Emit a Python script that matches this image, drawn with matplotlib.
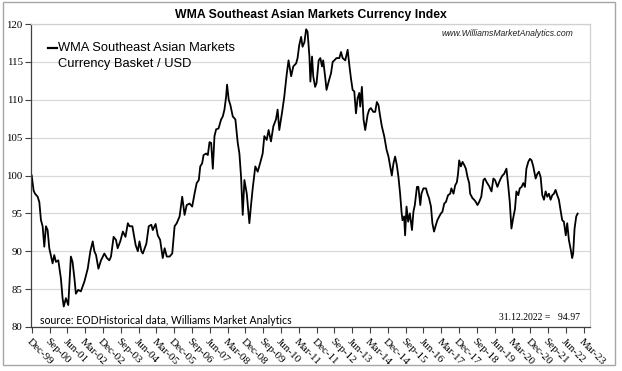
import matplotlib
matplotlib.use("Agg")
import matplotlib.pyplot as plt
from matplotlib.lines import Line2D
from matplotlib.patches import Rectangle

# ---- data (decimal year, index value) ----
years = [
    2000.00, 2000.08, 2000.14, 2000.25, 2000.32, 2000.39, 2000.46, 2000.53, 2000.60, 2000.67,
    2000.74, 2000.88, 2000.95, 2001.02, 2001.12, 2001.23, 2001.30, 2001.35, 2001.44, 2001.54,
    2001.65, 2001.72, 2001.80, 2001.86, 2001.96, 2002.07, 2002.22, 2002.36, 2002.47, 2002.57,
    2002.64, 2002.71, 2002.81, 2002.92, 2003.06, 2003.17, 2003.27, 2003.34, 2003.45, 2003.55,
    2003.62, 2003.73, 2003.84, 2003.95, 2004.05, 2004.12, 2004.24, 2004.29, 2004.38, 2004.47,
    2004.54, 2004.62, 2004.68, 2004.83, 2004.93, 2005.04, 2005.10, 2005.22, 2005.31, 2005.41,
    2005.52, 2005.60, 2005.69, 2005.81, 2005.92, 2006.02, 2006.11, 2006.23, 2006.34, 2006.44,
    2006.53, 2006.65, 2006.76, 2006.86, 2006.95, 2007.04, 2007.10, 2007.18, 2007.24, 2007.35,
    2007.42, 2007.49, 2007.56, 2007.63, 2007.70, 2007.77, 2007.87, 2007.98, 2008.05, 2008.12,
    2008.19, 2008.23, 2008.30, 2008.37, 2008.47, 2008.58, 2008.68, 2008.75, 2008.82, 2008.89,
    2008.96, 2009.06, 2009.17, 2009.24, 2009.31, 2009.42, 2009.52, 2009.62, 2009.73, 2009.80,
    2009.90, 2009.98, 2010.08, 2010.18, 2010.29, 2010.36, 2010.43, 2010.55, 2010.64, 2010.74,
    2010.82, 2010.93, 2011.02, 2011.14, 2011.20, 2011.27, 2011.35, 2011.41, 2011.49, 2011.56,
    2011.62, 2011.70, 2011.74, 2011.81, 2011.86, 2011.94, 2012.00, 2012.09, 2012.16, 2012.23,
    2012.28, 2012.37, 2012.42, 2012.51, 2012.61, 2012.68, 2012.75, 2012.84, 2012.96, 2013.03,
    2013.10, 2013.21, 2013.31, 2013.38, 2013.45, 2013.52, 2013.59, 2013.66, 2013.73, 2013.80,
    2013.84, 2013.91, 2013.98, 2014.05, 2014.15, 2014.22, 2014.29, 2014.39, 2014.47, 2014.54,
    2014.61, 2014.67, 2014.75, 2014.85, 2014.95, 2015.03, 2015.09, 2015.17, 2015.24, 2015.31,
    2015.38, 2015.45, 2015.52, 2015.58, 2015.62, 2015.69, 2015.73, 2015.79, 2015.86, 2015.93,
    2016.02, 2016.08, 2016.14, 2016.23, 2016.29, 2016.37, 2016.42, 2016.50, 2016.61, 2016.67,
    2016.74, 2016.82, 2016.88, 2016.95, 2017.03, 2017.09, 2017.17, 2017.24, 2017.30, 2017.38,
    2017.45, 2017.54, 2017.63, 2017.68, 2017.77, 2017.84, 2017.91, 2017.96, 2018.01, 2018.08,
    2018.15, 2018.22, 2018.29, 2018.36, 2018.43, 2018.47, 2018.57, 2018.64, 2018.71, 2018.78,
    2018.85, 2018.94, 2019.03, 2019.09, 2019.17, 2019.27, 2019.37, 2019.45, 2019.52, 2019.62,
    2019.69, 2019.76, 2019.83, 2019.90, 2020.00, 2020.08, 2020.14, 2020.21, 2020.28, 2020.36,
    2020.42, 2020.50, 2020.56, 2020.64, 2020.71, 2020.78, 2020.84, 2020.92, 2020.99, 2021.06,
    2021.13, 2021.23, 2021.30, 2021.37, 2021.44, 2021.51, 2021.58, 2021.65, 2021.72, 2021.79,
    2021.86, 2021.93, 2022.00, 2022.07, 2022.14, 2022.21, 2022.28, 2022.35, 2022.42, 2022.50,
    2022.56, 2022.63, 2022.71, 2022.77, 2022.81, 2022.87, 2022.94, 2023.00,
]
values = [
    100.0, 98.0, 97.6, 97.2, 96.5, 94.1, 93.3, 90.6, 93.3, 92.8,
    90.4, 88.4, 89.5, 88.6, 88.8, 86.4, 83.8, 82.7, 83.8, 82.9,
    89.3, 88.6, 86.4, 84.4, 84.9, 84.7, 86.0, 87.7, 90.0, 91.3,
    90.0, 89.5, 87.7, 88.8, 89.7, 89.1, 88.8, 89.3, 91.9, 91.5,
    90.4, 91.3, 92.6, 91.9, 93.7, 93.3, 93.3, 92.4, 90.8, 90.0,
    91.3, 90.0, 89.7, 91.0, 93.3, 93.5, 92.8, 93.6, 92.1, 91.5,
    89.1, 90.4, 89.3, 89.3, 89.7, 93.3, 93.7, 94.6, 97.2, 94.8,
    96.1, 96.3, 95.9, 97.6, 99.0, 99.4, 101.2, 101.6, 102.7, 102.9,
    102.7, 104.4, 104.3, 100.9, 105.2, 106.1, 106.2, 107.4, 107.8, 108.7,
    110.4, 112.0, 110.0, 109.3, 107.8, 107.4, 104.3, 102.9, 99.8, 94.8,
    99.4, 97.6, 93.7, 96.1, 98.3, 101.2, 100.5, 101.6, 102.9, 105.2,
    104.7, 106.0, 104.5, 106.5, 107.4, 108.7, 106.0, 108.4, 110.4, 113.3,
    115.2, 113.1, 114.4, 114.8, 115.5, 117.2, 118.3, 117.0, 117.6, 119.3,
    119.0, 115.7, 112.4, 115.7, 113.1, 111.7, 112.2, 115.2, 115.5, 114.4,
    115.2, 112.8, 111.3, 112.4, 113.5, 115.0, 115.2, 115.5, 115.5, 116.3,
    115.5, 115.2, 116.6, 114.6, 112.8, 111.3, 111.1, 108.2, 110.2, 110.9,
    109.1, 111.7, 107.4, 106.0, 108.0, 108.7, 108.9, 108.4, 108.4, 109.7,
    109.3, 108.0, 106.5, 105.2, 103.4, 102.5, 101.4, 100.0, 101.6, 102.5,
    101.4, 99.8, 97.6, 95.2, 94.1, 94.6, 92.1, 95.9, 93.9, 95.0,
    92.8, 95.2, 96.1, 98.5, 98.5, 96.1, 97.6, 98.3, 98.3, 97.6,
    97.0, 95.9, 93.7, 92.6, 93.5, 94.1, 94.6, 95.0, 95.2, 96.3,
    96.5, 97.4, 97.6, 98.3, 97.6, 98.7, 99.1, 100.2, 102.0, 101.2,
    101.8, 101.4, 100.9, 99.8, 99.0, 97.6, 97.0, 96.8, 96.5, 96.1,
    96.5, 97.2, 99.4, 99.6, 99.1, 98.6, 97.9, 99.6, 99.4, 98.5,
    99.1, 99.6, 100.0, 100.2, 100.9, 98.5, 96.5, 93.0, 94.3, 95.6,
    97.9, 97.4, 98.3, 98.5, 99.0, 98.5, 100.9, 101.8, 102.2, 102.0,
    101.2, 99.6, 100.2, 100.5, 99.8, 97.4, 96.8, 97.9, 97.2, 97.6,
    96.8, 97.4, 97.6, 98.1, 97.4, 96.8, 95.4, 94.1, 93.9, 92.1,
    93.7, 91.5, 90.2, 89.1, 89.7, 93.0, 94.6, 94.97,
]

tick_labels = ["Dec-99", "Sep-00", "Jun-01", "Mar-02", "Dec-02", "Sep-03", "Jun-04", "Mar-05",
               "Dec-05", "Sep-06", "Jun-07", "Mar-08", "Dec-08", "Sep-09", "Jun-10", "Mar-11",
               "Dec-11", "Sep-12", "Jun-13", "Mar-14", "Dec-14", "Sep-15", "Jun-16", "Mar-17",
               "Dec-17", "Sep-18", "Jun-19", "Mar-20", "Dec-20", "Sep-21", "Jun-22", "Mar-23"]
y_ticks = [80, 85, 90, 95, 100, 105, 110, 115, 120]

title = "WMA Southeast Asian Markets Currency Index"
website = "www.WilliamsMarketAnalytics.com"
source = "source: EODHistorical data, Williams Market Analytics"
last_note = "31.12.2022 =   94.97"

W, H = 622, 371
fig = plt.figure(figsize=(W / 100, H / 100), dpi=100)
fig.patch.set_facecolor("white")

# outer chart frame
fig.add_artist(Rectangle((3 / W, (H - 365) / H), 612 / W, 363 / H, transform=fig.transFigure,
                         fill=False, edgecolor="#a6a6a6", lw=1.0))

ax = fig.add_axes([31 / W, (H - 327) / H, (590 - 31) / W, (327 - 24) / H])
ax.plot(years, values, color="black", lw=1.3, solid_joinstyle="round")

ax.set_ylim(80, 120)
ax.set_xlim(2000.0 - 0.03, 2023.52)
ax.set_yticks(y_ticks)
ax.set_yticklabels([str(v) for v in y_ticks], fontfamily="Liberation Serif", fontsize=7.8)
xt = [2000.0 + 0.75 * i for i in range(len(tick_labels))]
ax.set_xticks(xt)
ax.set_xticklabels(tick_labels, fontfamily="Liberation Serif", fontsize=8,
                   rotation=-45, ha="left", va="top", rotation_mode="anchor")
ax.tick_params(axis="both", direction="out", length=4, width=0.8, color="#404040", pad=2)
ax.tick_params(axis="x", pad=3)
ax.grid(axis="y", color="#d9d9d9", lw=0.9)
ax.set_axisbelow(True)
for s in ["left", "bottom"]:
    ax.spines[s].set_color("#404040")
    ax.spines[s].set_linewidth(0.9)
for s in ["top", "right"]:
    ax.spines[s].set_color("#d0d0d0")
    ax.spines[s].set_linewidth(0.9)

fig.text(311 / W, 1 - 15 / H, title, ha="center", va="center", fontsize=8.8,
         fontweight="bold", fontfamily="Liberation Sans")
fig.text(573 / W, 1 - 34 / H, website, ha="right", va="center", fontsize=6.2,
         fontstyle="italic", fontfamily="Liberation Sans", color="#202020")

# legend
fig.add_artist(Line2D([48 / W, 57 / W], [1 - 48 / H, 1 - 48 / H], transform=fig.transFigure,
                      color="black", lw=1.6))
fig.text(58 / W, 1 - 48 / H, "WMA Southeast Asian Markets", ha="left", va="center",
         fontsize=9.3, fontfamily="Liberation Sans")
fig.text(58 / W, 1 - 64 / H, "Currency Basket / USD", ha="left", va="center",
         fontsize=9.3, fontfamily="Liberation Sans")

fig.text(40 / W, 1 - 320 / H, source, ha="left", va="center", fontsize=7.6,
         fontfamily="Lato")
fig.text(580 / W, 1 - 318 / H, last_note, ha="right", va="center", fontsize=7,
         fontfamily="Liberation Serif")

fig.savefig("out.png", dpi=100)
